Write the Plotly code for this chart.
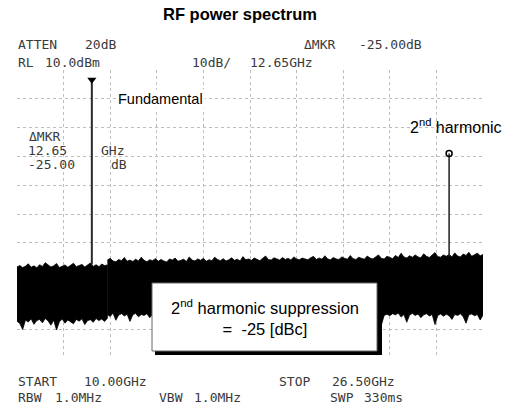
import plotly.graph_objects as go

# ---------------- data ----------------
start_ghz, stop_ghz = 10.0, 26.5
ref_level_dbm, db_per_div, n_vdiv, n_hdiv = 10.0, 10.0, 10, 10

fund_freq_ghz, fund_level_dbm = 12.65, 6.0
harm_freq_ghz, harm_level_dbm = 25.30, -19.0
fund_floor_dbm, harm_floor_dbm = -57.5, -54.8

band1_freq = [10.0, 10.1, 10.2, 10.3, 10.4, 10.5, 10.6, 10.7, 10.8, 10.9,
              11.0, 11.1, 11.2, 11.3, 11.4, 11.5, 11.6, 11.7, 11.8, 11.9,
              12.0, 12.1, 12.2, 12.3, 12.4, 12.5, 12.6, 12.7, 12.8, 12.9,
              13.0, 13.1, 13.2]
band1_upper = [-58.4, -57.9, -58.6, -58.1, -57.3, -58.5, -58.0, -58.7, -57.6, -58.2,
               -56.9, -57.8, -58.4, -58.0, -57.2, -58.6, -58.1, -57.7, -58.5, -57.9,
               -57.1, -58.3, -58.0, -57.5, -58.4, -57.8, -57.0, -58.2, -57.6, -58.3,
               -57.4, -57.9, -57.7]
band1_lower = [-77.2, -78.0, -80.1, -76.8, -77.5, -76.4, -78.3, -77.0, -76.6, -77.8,
               -76.3, -77.1, -78.6, -76.9, -80.3, -77.4, -76.5, -77.9, -76.8, -77.3,
               -78.1, -76.6, -77.2, -76.4, -78.4, -77.0, -76.7, -77.6, -76.3, -77.0,
               -76.5, -77.3, -76.2]

band2_freq = [13.2, 13.3, 13.4, 13.5, 13.6, 13.7, 13.8, 13.9, 14.0, 14.1,
              14.2, 14.3, 14.4, 14.5, 14.6, 14.7, 14.8, 14.9, 15.0, 15.1,
              15.2, 15.3, 15.4, 15.5, 15.6, 15.7, 15.8, 15.9, 16.0, 16.1,
              16.2, 16.3, 16.4, 16.5, 16.6, 16.7, 16.8, 16.9, 17.0, 17.1,
              17.2, 17.3, 17.4, 17.5, 17.6, 17.7, 17.8, 17.9, 18.0, 18.1,
              18.2, 18.3, 18.4, 18.5, 18.6, 18.7, 18.8, 18.9, 19.0, 19.1,
              19.2, 19.3, 19.4, 19.5, 19.6, 19.7, 19.8, 19.9, 20.0, 20.1,
              20.2, 20.3, 20.4, 20.5, 20.6, 20.7, 20.8, 20.9, 21.0, 21.1,
              21.2, 21.3, 21.4, 21.5, 21.6, 21.7, 21.8, 21.9, 22.0, 22.1,
              22.2, 22.3, 22.4, 22.5, 22.6, 22.7, 22.8, 22.9, 23.0, 23.1,
              23.2, 23.3, 23.4, 23.5, 23.6, 23.7, 23.8, 23.9, 24.0, 24.1,
              24.2, 24.3, 24.4, 24.5, 24.6, 24.7, 24.8, 24.9, 25.0, 25.1,
              25.2, 25.3, 25.4, 25.5, 25.6, 25.7, 25.8, 25.9, 26.0, 26.1,
              26.2, 26.3, 26.4, 26.5]
band2_upper = [-56.0, -55.4, -56.3, -56.6, -55.8, -56.2, -55.1, -56.4, -56.0, -56.5,
               -55.7, -56.3, -55.0, -56.1, -56.6, -55.9, -56.2, -55.5, -56.4, -55.8,
               -56.3, -56.7, -55.6, -56.0, -55.3, -56.4, -56.1, -55.7, -56.5, -54.9,
               -56.0, -56.3, -55.6, -56.1, -55.4, -56.4, -55.9, -56.2, -55.0, -55.8,
               -56.2, -55.5, -56.3, -55.9, -55.2, -56.1, -55.7, -56.3, -54.8, -55.9,
               -55.6, -56.1, -55.3, -55.9, -56.2, -55.4, -54.6, -55.8, -56.0, -55.2,
               -55.7, -56.0, -55.1, -55.8, -55.4, -56.0, -54.9, -55.6, -55.9, -55.3,
               -55.6, -55.9, -55.2, -54.7, -55.8, -55.3, -55.7, -54.5, -55.6, -55.9,
               -55.1, -55.6, -55.8, -54.9, -55.4, -55.7, -54.4, -55.5, -55.8, -55.0,
               -55.4, -55.7, -54.6, -55.3, -55.6, -54.8, -54.2, -55.4, -55.6, -54.7,
               -55.2, -55.5, -54.4, -55.1, -53.6, -54.9, -55.3, -54.5, -55.0, -54.2,
               -54.9, -55.2, -53.8, -54.7, -55.1, -54.3, -53.4, -54.8, -55.0, -54.2,
               -54.7, -54.0, -54.9, -53.5, -54.6, -54.9, -53.9, -54.4, -53.3, -54.7,
               -54.2, -53.6, -54.5, -54.1]
band2_lower = [-74.9, -75.6, -74.4, -76.9, -75.1, -74.6, -75.4, -74.8, -77.3, -75.0,
               -74.5, -75.7, -74.9, -75.2, -74.6, -76.0, -74.8, -75.3, -74.7, -75.5,
               -74.9, -75.4, -74.6, -75.8, -75.0, -74.7, -76.2, -74.9, -75.3, -74.6,
               -75.5, -74.8, -75.1, -76.4, -74.7, -75.2, -74.9, -75.6, -74.5, -75.0,
               -75.7, -74.8, -75.3, -74.6, -76.1, -75.0, -74.7, -75.4, -74.9, -75.2,
               -74.6, -75.8, -75.0, -74.7, -75.5, -74.9, -76.3, -75.1, -74.8, -75.3,
               -74.7, -75.6, -74.9, -75.2, -74.6, -75.9, -75.0, -74.8, -75.5, -74.7,
               -75.3, -74.9, -76.0, -74.6, -75.2, -74.8, -75.6, -74.9, -75.1, -74.7,
               -75.8, -74.9, -75.3, -74.6, -75.5, -76.2, -74.8, -75.0, -74.7, -75.4,
               -74.9, -75.6, -74.7, -75.1, -74.8, -75.9, -74.6, -78.6, -75.2, -74.8,
               -75.3, -74.6, -75.0, -74.4, -75.8, -74.9, -77.6, -75.1, -74.5, -75.2,
               -74.7, -76.0, -75.0, -74.6, -75.4, -74.9, -78.4, -75.2, -74.7, -75.5,
               -74.8, -75.3, -76.6, -74.9, -75.2, -74.6, -75.7, -77.9, -75.0, -74.7,
               -75.3, -74.9, -76.8, -75.1]

header_words = [("ATTEN", 16, 45), ("20dB", 83, 45), ("ΔMKR", 302, 45), ("-25.00dB", 357, 45),
                ("RL", 16, 62), ("10.0dBm", 43, 62), ("10dB/", 190, 62), ("12.65GHz", 248, 62)]
marker_words = [("ΔMKR", 27, 136), ("12.65", 26, 150), ("GHz", 99, 150),
                ("-25.00", 26, 164), ("dB", 109, 164)]
footer_words = [("START", 16, 381), ("10.00GHz", 82, 381), ("STOP", 277, 381), ("26.50GHz", 330, 381),
                ("RBW", 16, 397), ("1.0MHz", 53, 397), ("VBW", 157, 397), ("1.0MHz", 192, 397),
                ("SWP", 328, 397), ("330ms", 362, 397)]

# ---------------- layout geometry (pixels) ----------------
W, H = 513, 407
L, R, T, B = 17.0, 483.0, 70.0, 358.0
PW, PH = R - L, B - T


def px(x):
    return (x - L) / PW


def py(y):
    return (B - y) / PH


bottom_dbm = ref_level_dbm - db_per_div * n_vdiv
fstep = (stop_ghz - start_ghz) / n_hdiv

fig = go.Figure()

for fr, up, lo in [(band1_freq, band1_upper, band1_lower),
                   (band2_freq, band2_upper, band2_lower)]:
    fig.add_trace(go.Scatter(
        x=fr + fr[::-1], y=up + lo[::-1], mode="lines", fill="toself",
        fillcolor="#000000", line=dict(color="#000000", width=0.8),
        hoverinfo="skip", showlegend=False))

fig.add_trace(go.Scatter(x=[fund_freq_ghz, fund_freq_ghz], y=[fund_floor_dbm, fund_level_dbm],
                         mode="lines", line=dict(color="#2a2a2a", width=2), showlegend=False))
fig.add_trace(go.Scatter(x=[harm_freq_ghz, harm_freq_ghz], y=[harm_floor_dbm, harm_level_dbm],
                         mode="lines", line=dict(color="#2a2a2a", width=1.6), showlegend=False))
fig.add_trace(go.Scatter(x=[fund_freq_ghz], y=[fund_level_dbm + 0.6], mode="markers",
                         marker=dict(symbol="triangle-down", size=8, color="#000000"),
                         showlegend=False, cliponaxis=False))
fig.add_trace(go.Scatter(x=[harm_freq_ghz], y=[harm_level_dbm], mode="markers",
                         marker=dict(symbol="circle-open", size=6, color="#000000",
                                     line=dict(width=1.5, color="#000000")),
                         showlegend=False, cliponaxis=False))

annotations = []
mono = dict(family="DejaVu Sans Mono", size=13, color="#3a3a3a")
for text, x, y in header_words + marker_words + footer_words:
    annotations.append(dict(text=text, x=px(x), y=py(y), xref="paper", yref="paper",
                            xanchor="left", yanchor="middle", showarrow=False, font=mono))

sans = "Liberation Sans, Arial, sans-serif"
annotations += [
    dict(text="<b>RF power spectrum</b>", x=px(240), y=py(14), xref="paper", yref="paper",
         xanchor="center", yanchor="middle", showarrow=False,
         font=dict(family=sans, size=16.5, color="#000000")),
    dict(text="Fundamental", x=px(116), y=py(99), xref="paper", yref="paper",
         xanchor="left", yanchor="middle", showarrow=False,
         font=dict(family=sans, size=14.5, color="#000000"), bgcolor="#ffffff"),
    dict(text="2<sup>nd</sup> harmonic", x=px(408), y=py(126), xref="paper", yref="paper",
         xanchor="left", yanchor="middle", showarrow=False,
         font=dict(family=sans, size=16, color="#000000")),
    dict(text="2<sup>nd</sup> harmonic suppression<br>=  -25 [dBc]", x=px(264.5), y=py(317),
         xref="paper", yref="paper", xanchor="center", yanchor="middle", showarrow=False,
         align="center", font=dict(family=sans, size=16.5, color="#000000")),
]

shapes = [
    dict(type="rect", xref="paper", yref="paper", x0=px(155), x1=px(382), y0=py(355), y1=py(286),
         fillcolor="#000000", line=dict(width=0), layer="above"),
    dict(type="rect", xref="paper", yref="paper", x0=px(152), x1=px(377), y0=py(351), y1=py(283),
         fillcolor="#ffffff", line=dict(color="#666666", width=1), layer="above"),
]

fig.update_layout(
    width=W, height=H, autosize=False,
    margin=dict(l=L, r=W - R, t=T, b=H - B, pad=0),
    paper_bgcolor="#ffffff", plot_bgcolor="#ffffff",
    annotations=annotations, shapes=shapes, showlegend=False,
    xaxis=dict(range=[start_ghz, stop_ghz], tickvals=[start_ghz + fstep * k for k in range(n_hdiv + 1)],
               showticklabels=False, ticks="", showgrid=True, gridcolor="#bdbdbd", griddash="dot",
               gridwidth=1, zeroline=False, showline=False, fixedrange=True),
    yaxis=dict(range=[bottom_dbm, ref_level_dbm],
               tickvals=[ref_level_dbm - db_per_div * k for k in range(n_vdiv + 1)],
               showticklabels=False, ticks="", showgrid=True, gridcolor="#bdbdbd", griddash="dot",
               gridwidth=1, zeroline=False, showline=False, fixedrange=True),
)

fig.write_html("out.html", config={"displayModeBar": False},
               post_script="document.body.style.margin='0px';document.body.style.overflow='hidden';")
